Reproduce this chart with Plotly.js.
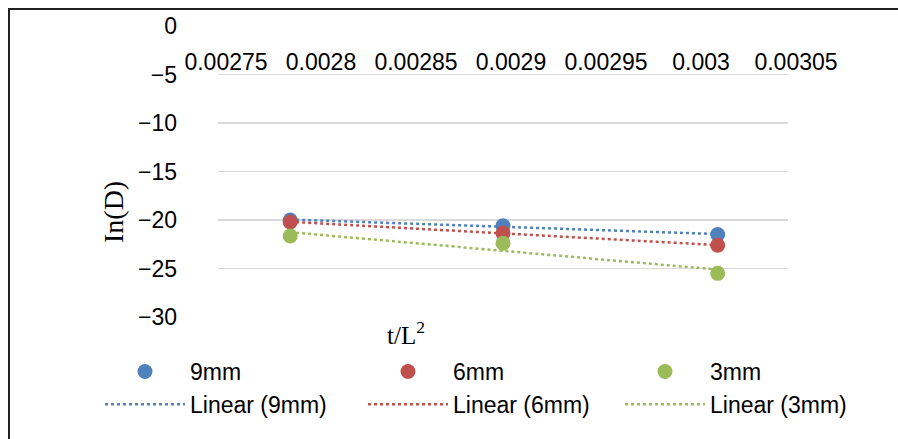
<!DOCTYPE html>
<html>
<head>
<meta charset="utf-8">
<script src="https://cdn.plot.ly/plotly-3.0.1.min.js"></script>
<style>
  html, body { margin: 0; padding: 0; background: #fff; overflow: hidden; width: 898px; height: 439px; }
  #chart { width: 898px; height: 439px; position: absolute; left: 0; top: 0; }
  #frame { position: absolute; left: 8px; top: 8px; width: 890px; height: 431px;
           border-top: 2px solid #222; border-left: 2px solid #222; box-sizing: border-box;
           pointer-events: none; }
</style>
</head>
<body>
<div id="chart"></div>
<div id="frame"></div>
<script>
// x values (t/L^2)
const xVals = [0.002788, 0.0029, 0.003013];
// ln(D) per specimen thickness
const y9mm = [-20.0, -20.6, -21.5];
const y6mm = [-20.2, -21.35, -22.6];
const y3mm = [-21.65, -22.4, -25.5];
const seriesNames = ['9mm', '6mm', '3mm'];
const seriesColors = ['#4F81BD', '#C0504D', '#9BBB59'];
const xTickVals = [0.00275, 0.0028, 0.00285, 0.0029, 0.00295, 0.003, 0.00305];
const xTickText = ['0.00275', '0.0028', '0.00285', '0.0029', '0.00295', '0.003', '0.00305'];
const yTickVals = [0, -5, -10, -15, -20, -25, -30];

const seriesY = [y9mm, y6mm, y3mm];
const legendIds = ['legend', 'legend2', 'legend3'];

function linFit(xs, ys) {
  const n = xs.length;
  const mx = xs.reduce((a, b) => a + b, 0) / n;
  const my = ys.reduce((a, b) => a + b, 0) / n;
  let sxy = 0, sxx = 0;
  for (let i = 0; i < n; i++) { sxy += (xs[i] - mx) * (ys[i] - my); sxx += (xs[i] - mx) ** 2; }
  const b = sxy / sxx;
  const a = my - b * mx;
  const x0 = Math.min(...xs), x1 = Math.max(...xs);
  return { x: [x0, x1], y: [a + b * x0, a + b * x1] };
}

const traces = [];
// trendlines first so markers are drawn on top
seriesY.forEach((ys, i) => {
  const f = linFit(xVals, ys);
  traces.push({
    type: 'scatter', mode: 'lines', name: 'Linear (' + seriesNames[i] + ')',
    x: f.x, y: f.y, legend: legendIds[i], legendrank: 2,
    line: { color: seriesColors[i], width: 2.5, dash: 'dot' }
  });
});
seriesY.forEach((ys, i) => {
  traces.push({
    type: 'scatter', mode: 'markers', name: seriesNames[i],
    x: xVals, y: ys, legend: legendIds[i], legendrank: 1,
    marker: { color: seriesColors[i], size: 15 }
  });
});

const FONT = 'Liberation Sans, Arial, Helvetica, sans-serif';
const SERIF = 'Liberation Serif, Times New Roman, serif';

function legendAt(left) {
  return {
    orientation: 'v', xref: 'container', yref: 'container',
    x: left / 898, xanchor: 'left', y: 1 - 350 / 439, yanchor: 'top',
    itemwidth: 80, traceorder: 'normal',
    font: { family: FONT, size: 23, color: '#000' },
    bgcolor: 'rgba(0,0,0,0)', borderwidth: 0
  };
}

const layout = {
  width: 898, height: 439,
  margin: { l: 218, r: 110, t: 25, b: 121, autoexpand: false },
  paper_bgcolor: '#ffffff', plot_bgcolor: '#ffffff',
  font: { family: FONT, size: 23, color: '#000' },
  showlegend: true,
  legend: legendAt(100),
  legend2: legendAt(363),
  legend3: legendAt(620),
  xaxis: {
    range: [0.00275, 0.00305], automargin: false,
    anchor: 'free', position: 1, side: 'bottom',
    tickmode: 'array', tickvals: xTickVals, ticktext: xTickText,
    showgrid: false, zeroline: false, showline: false, ticks: '',
    ticklabelstandoff: 21, ticklabelshift: 8,
    tickfont: { family: FONT, size: 23, color: '#000' }
  },
  yaxis: {
    range: [-30.1, 0.1], automargin: false,
    tickmode: 'array', tickvals: yTickVals,
    showgrid: true, gridcolor: '#D9D9D9', gridwidth: 1.2,
    zeroline: false, showline: false, ticks: '',
    ticklabelstandoff: 40,
    tickfont: { family: FONT, size: 23, color: '#000' }
  },
  annotations: [{
    text: 'In(D)', xref: 'paper', yref: 'paper',
    x: (114 - 218) / 570, y: (318 - 212) / 293, xanchor: 'center', yanchor: 'middle',
    textangle: -90, showarrow: false,
    font: { family: SERIF, size: 28, color: '#000' }
  }, {
    text: 't/L<sup>2</sup>', xref: 'paper', yref: 'paper',
    x: (406 - 218) / 570, y: -0.05, xanchor: 'center', yanchor: 'middle',
    showarrow: false, bgcolor: '#ffffff',
    font: { family: SERIF, size: 25, color: '#000' }
  }]
};

Plotly.newPlot('chart', traces, layout, { displayModeBar: false, staticPlot: true });
</script>
</body>
</html>
